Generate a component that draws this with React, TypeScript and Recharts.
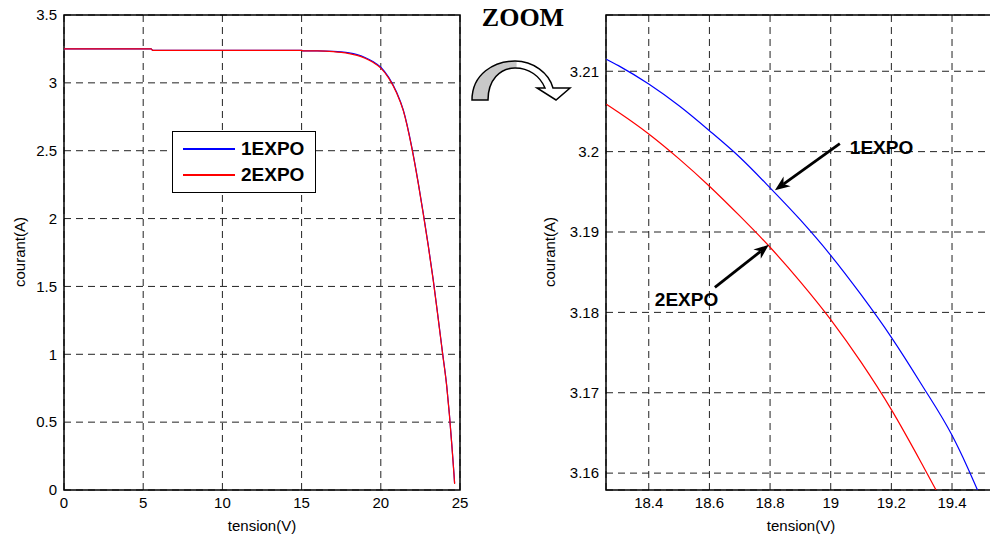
import React from "react";
import {
    LineChart,
    Line,
    XAxis,
    YAxis,
    CartesianGrid,
    ReferenceArea,
    ReferenceLine,
    Legend,
} from "recharts";

// left panel: full I-V curve, tension (V) / courant (A)
const fullV = [0, 5.5, 5.6, 15, 15.1, 16, 17, 17.5, 18, 18.5, 19, 19.5, 20, 20.5, 21, 21.42, 21.95, 22.37, 22.68, 23.0, 23.31, 23.63, 23.9, 24.16, 24.33, 24.48, 24.62, 24.66];
const fullI1 = [3.25, 3.25, 3.24, 3.24, 3.235, 3.235, 3.232, 3.228, 3.221, 3.208, 3.187, 3.157, 3.115, 3.04, 2.93, 2.8, 2.53, 2.26, 2.04, 1.8, 1.55, 1.26, 1.01, 0.77, 0.56, 0.34, 0.12, 0.05];
const fullI2 = [3.25, 3.25, 3.24, 3.24, 3.235, 3.235, 3.23, 3.224, 3.215, 3.202, 3.181, 3.151, 3.109, 3.035, 2.925, 2.795, 2.525, 2.255, 2.035, 1.795, 1.545, 1.255, 1.005, 0.765, 0.555, 0.335, 0.115, 0.045];

// right panel: zoom on the knee
const zoomV1 = [18.26, 18.3, 18.4, 18.5, 18.6, 18.7, 18.8, 18.9, 19.0, 19.1, 19.2, 19.3, 19.4, 19.45, 19.484];
const zoomI1 = [3.2115, 3.2107, 3.2084, 3.2057, 3.2026, 3.1993, 3.1955, 3.1915, 3.1871, 3.1822, 3.1769, 3.171, 3.1647, 3.1608, 3.1579];
const zoomV2 = [18.26, 18.3, 18.4, 18.5, 18.6, 18.7, 18.8, 18.9, 19.0, 19.1, 19.2, 19.3, 19.35];
const zoomI2 = [3.2059, 3.2049, 3.2022, 3.1991, 3.1957, 3.192, 3.1881, 3.1838, 3.1791, 3.1738, 3.1679, 3.1612, 3.1577];

const seriesNames = ["1EXPO", "2EXPO"];
const seriesColors = ["#0000ff", "#ff0000"];

const xTicksFull = [0, 5, 10, 15, 20, 25];
const yTicksFull = [0, 0.5, 1, 1.5, 2, 2.5, 3, 3.5];
const xTicksZoom = [18.4, 18.6, 18.8, 19, 19.2, 19.4];
const yTicksZoom = [3.16, 3.17, 3.18, 3.19, 3.2, 3.21];
const zoomXDomain = [18.259, 19.545];
const zoomYDomain = [3.1579, 3.217];

// annotation arrows: [tail, tip] in data units
const arrow1 = [{ x: 19.03, y: 3.201 }, { x: 18.816, y: 3.1952 }];
const arrow2 = [{ x: 18.618, y: 3.1831 }, { x: 18.796, y: 3.1884 }];

const toPoints = (vs: number[], is: number[]) => vs.map((v, k) => ({ v, i: is[k] }));

const font = "'Liberation Sans', Arial, sans-serif";
const tickStyle = { fill: "#000", fontSize: 15, fontFamily: font };

const LegendBox = () => (
    <div
        style={{
            border: "1.5px solid #000",
            background: "#fff",
            padding: "4px 8px 4px 10px",
            width: 124,
            fontFamily: font,
        }}
    >
        {seriesNames.map((name, k) => (
            <div key={name} style={{ display: "flex", alignItems: "center", height: 26 }}>
                <div style={{ width: 52, height: 1.5, background: seriesColors[k], marginRight: 6 }} />
                <span style={{ fontWeight: "bold", fontSize: 19 }}>{name}</span>
            </div>
        ))}
    </div>
);

const arrowShape = (label: string, lx: number, ly: number) => (props: any) => {
    const { x1, y1, x2, y2 } = props;
    const ang = Math.atan2(y2 - y1, x2 - x1);
    const c = Math.cos(ang);
    const s = Math.sin(ang);
    const len = 15;
    const w = 6;
    const bx = x2 - len * c;
    const by = y2 - len * s;
    const nx = x2 - len * 0.7 * c;
    const ny = y2 - len * 0.7 * s;
    return (
        <g>
            <line x1={x1} y1={y1} x2={nx} y2={ny} stroke="#000" strokeWidth={2.8} />
            <polygon
                points={`${x2},${y2} ${bx - s * w},${by + c * w} ${nx},${ny} ${bx + s * w},${by - c * w}`}
                fill="#000"
            />
            <text x={x1 + lx} y={y1 + ly} fontFamily={font} fontWeight="bold" fontSize={19} fill="#000">
                {label}
            </text>
        </g>
    );
};

function FullChart() {
    const d1 = toPoints(fullV, fullI1);
    const d2 = toPoints(fullV, fullI2);
    return (
        <LineChart width={480} height={536} margin={{ top: 15, right: 20, left: 0, bottom: 0 }}>
            <CartesianGrid stroke="#222" strokeDasharray="7 5" />
            <XAxis
                type="number"
                dataKey="v"
                domain={[0, 25]}
                ticks={xTicksFull}
                height={46}
                axisLine={false}
                tickLine={false}
                tickMargin={1}
                tick={tickStyle}
                allowDataOverflow
            />
            <YAxis
                type="number"
                dataKey="i"
                domain={[0, 3.5]}
                ticks={yTicksFull}
                width={64}
                axisLine={false}
                tickLine={false}
                tickMargin={1}
                tick={tickStyle}
                allowDataOverflow
            />
            <ReferenceArea x1={0} x2={25} y1={0} y2={3.5} fill="none" stroke="#000" strokeWidth={1.5} />
            <Line data={d1} dataKey="i" name={seriesNames[0]} stroke={seriesColors[0]} strokeWidth={1.2} dot={false} type="monotone" isAnimationActive={false} />
            <Line data={d2} dataKey="i" name={seriesNames[1]} stroke={seriesColors[1]} strokeWidth={1.2} dot={false} type="monotone" isAnimationActive={false} />
            <Legend
                layout="vertical"
                align="center"
                verticalAlign="middle"
                content={<LegendBox />}
                wrapperStyle={{ position: "absolute", left: 172, top: 131, width: 145 }}
            />
        </LineChart>
    );
}

function ZoomChart() {
    const d1 = toPoints(zoomV1, zoomI1);
    const d2 = toPoints(zoomV2, zoomI2);
    return (
        <LineChart width={500} height={536} margin={{ top: 15, right: 4, left: 0, bottom: 0 }}>
            <CartesianGrid stroke="#222" strokeDasharray="7 5" />
            <XAxis
                type="number"
                dataKey="v"
                domain={zoomXDomain}
                ticks={xTicksZoom}
                height={46}
                axisLine={false}
                tickLine={false}
                tickMargin={1}
                tick={tickStyle}
                allowDataOverflow
            />
            <YAxis
                type="number"
                dataKey="i"
                domain={zoomYDomain}
                ticks={yTicksZoom}
                width={106}
                axisLine={false}
                tickLine={false}
                tickMargin={1}
                tick={tickStyle}
                allowDataOverflow
            />
            <ReferenceArea
                x1={zoomXDomain[0]}
                x2={zoomXDomain[1]}
                y1={zoomYDomain[0]}
                y2={zoomYDomain[1]}
                fill="none"
                stroke="#000"
                strokeWidth={1.5}
            />
            <Line data={d1} dataKey="i" stroke={seriesColors[0]} strokeWidth={1.2} dot={false} type="monotone" isAnimationActive={false} />
            <Line data={d2} dataKey="i" stroke={seriesColors[1]} strokeWidth={1.2} dot={false} type="monotone" isAnimationActive={false} />
            <ReferenceLine segment={arrow1} shape={arrowShape(seriesNames[0], 10, 10)} />
            <ReferenceLine segment={arrow2} shape={arrowShape(seriesNames[1], -60, 19)} />
        </LineChart>
    );
}

const axisTitle = (x: number, y: number, rotate = false): React.CSSProperties => ({
    position: "absolute",
    left: x,
    top: y,
    transform: `translate(-50%, -50%)${rotate ? " rotate(-90deg)" : ""}`,
    fontFamily: font,
    fontSize: 15,
    whiteSpace: "nowrap",
});

export default function App() {
    return (
        <div
            style={{
                position: "absolute",
                left: 0,
                top: 0,
                width: 990,
                height: 536,
                overflow: "hidden",
                background: "#fff",
            }}
        >
            <div style={{ position: "absolute", left: 0, top: 0 }}>
                <FullChart />
            </div>
            <div style={{ position: "absolute", left: 500, top: 0 }}>
                <ZoomChart />
            </div>
            <div style={axisTitle(262, 525)}>tension(V)</div>
            <div style={axisTitle(19, 252, true)}>courant(A)</div>
            <div style={axisTitle(801, 525)}>tension(V)</div>
            <div style={axisTitle(549, 252, true)}>courant(A)</div>
            <div
                style={{
                    position: "absolute",
                    left: 523,
                    top: 18,
                    transform: "translate(-50%, -50%)",
                    fontFamily: "'Liberation Serif', 'Times New Roman', serif",
                    fontWeight: "bold",
                    fontSize: 26,
                }}
            >
                ZOOM
            </div>
            <svg width={990} height={536} style={{ position: "absolute", left: 0, top: 0, pointerEvents: "none" }}>
                <defs>
                    <linearGradient id="zoomArrow" x1="0" y1="0" x2="1" y2="0">
                        <stop offset="0" stopColor="#c8c8c8" />
                        <stop offset="0.45" stopColor="#c8c8c8" />
                        <stop offset="0.46" stopColor="#fff" />
                        <stop offset="1" stopColor="#fff" />
                    </linearGradient>
                </defs>
                <path
                    d="M 472 100 C 472 74, 494 61, 515 61 C 533 61, 549 73, 553 88 L 570 88 L 556 100 L 537 88 L 545 88 C 540 76, 529 68, 515 68 C 500 68, 488 80, 488 100 Z"
                    fill="url(#zoomArrow)"
                    stroke="#000"
                    strokeWidth={1.5}
                    strokeLinejoin="miter"
                />
            </svg>
        </div>
    );
}
